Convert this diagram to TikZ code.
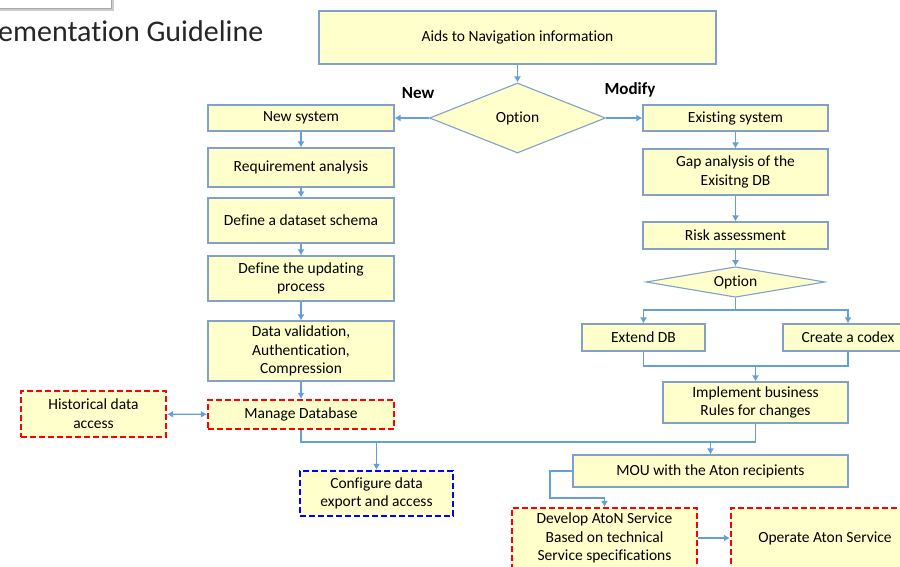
\documentclass[tikz,border=0pt]{standalone}
\usepackage{fontspec}
\setmainfont{Carlito}[Ligatures=NoCommon]
\usetikzlibrary{shapes.geometric,arrows.meta}
\definecolor{boxfill}{RGB}{255,255,204}
\definecolor{boxline}{RGB}{130,160,200}
\definecolor{flowline}{RGB}{100,160,215}
\tikzset{
  stepbox/.style={draw=boxline, line width=1.1pt, fill=boxfill, align=center, inner sep=0pt,
    font=\fontsize{15.5}{18.7}\selectfont},
  wh/.style 2 args={minimum width=#1pt, minimum height=#2pt},
  choice/.style={stepbox, diamond, aspect=2.5},
  reddash/.style={stepbox, draw=red, line width=2.2pt, dash pattern=on 6pt off 3pt},
  bluedash/.style={stepbox, draw=blue, line width=2.2pt, dash pattern=on 6pt off 3pt},
  plain/.style={draw=flowline, line width=1.1pt},
  flow/.style={plain, -{Latex[length=6pt,width=7pt]}},
  twoway/.style={plain, {Latex[length=6pt,width=7pt]}-{Latex[length=6pt,width=7pt]}},
  tag/.style={font=\fontsize{17}{20}\selectfont\bfseries}
}
\begin{document}
\begin{tikzpicture}[x=1pt,y=-1pt]
 \useasboundingbox (0,0) rectangle (900,566);
 % cut-off slide title
 \fill[black!20] (-3,-3) rectangle (114,11);
 \fill[white,draw=black!35] (-3,-3) rectangle (111,8);
 \node[anchor=base west, inner sep=0pt, text=black!85, font=\fontsize{30}{36}\selectfont] (title) at (-2,41) {ementation Guideline};

 \node[stepbox,wh={397}{53}] (aids) at (517.5,37.5) {Aids to Navigation information};
 \node[choice,wh={176}{70}] (opt) at (517.5,118) {Option};
 \node[tag] (new) at (418,93) {New};
 \node[tag] (mod) at (630,90) {Modify};

 % new system branch
 \node[stepbox,wh={186}{26}] (newsys) at (301,118) {New system};
 \node[stepbox,wh={186}{39}] (req) at (301,167.5) {Requirement analysis};
 \node[stepbox,wh={186}{45}] (schema) at (301,220.5) {Define a dataset schema};
 \node[stepbox,wh={186}{45}] (upd) at (301,278.5) {Define the updating\\process};
 \node[stepbox,wh={186}{60}] (valid) at (301,351) {Data validation,\\Authentication,\\Compression};
 \node[reddash,wh={186}{29}] (mdb) at (301,414.5) {Manage Database};
 \node[reddash,wh={145}{46}] (hist) at (93.5,414) {Historical data\\access};
 \node[bluedash,wh={153}{45}] (conf) at (376.5,493.5) {Configure data\\export and access};

 % existing system branch
 \node[stepbox,wh={185}{26}] (exist) at (735.5,118) {Existing system};
 \node[stepbox,wh={185}{46}] (gap) at (735.5,172) {Gap analysis of the\\Exisitng DB};
 \node[stepbox,wh={185}{27}] (risk) at (735.5,235.5) {Risk assessment};
 \node[choice,wh={179}{26}] (opt2) at (735.5,282) {Option};
 \node[stepbox,wh={123}{27}] (ext) at (643.5,337.5) {Extend DB};
 \node[stepbox,wh={130}{27}] (codex) at (848,337.5) {Create a codex};
 \node[stepbox,wh={185}{41}] (impl) at (755.5,402.5) {Implement business\\Rules for changes};
 \node[stepbox,wh={275}{32}] (mou) at (710.5,471) {MOU with the Aton recipients};
 \node[reddash,wh={185}{60}] (dev) at (604.5,538) {Develop AtoN Service\\Based on technical\\Service specifications};
 \node[reddash,wh={188}{60}] (oper) at (825,538) {Operate Aton Service};

 \coordinate (split) at (735.5,310);
 \coordinate (join) at (755.5,366);
 \coordinate (busl) at (301,442);
 \coordinate (busr) at (755.5,442);
 \coordinate (elbow) at (550,498);

 \draw[flow] (aids) -- (opt);
 \draw[flow] (opt) -- (newsys);
 \draw[flow] (opt) -- (exist);
 \draw[flow] (newsys) -- (req);
 \draw[flow] (req) -- (schema);
 \draw[flow] (schema) -- (upd);
 \draw[flow] (upd) -- (valid);
 \draw[flow] (valid) -- (mdb);
 \draw[twoway] (hist) -- (mdb);
 \draw[flow] (exist) -- (gap);
 \draw[flow] (gap) -- (risk);
 \draw[flow] (risk) -- (opt2);
 \draw[flow] (opt2) -- (split) -| (ext);
 \draw[flow] (split) -| (codex);
 \draw[plain] (ext) |- (join) -| (codex);
 \draw[flow] (join) -- (impl);
 \draw[plain] (mdb) -- (busl) -- (busr) -- (impl);
 \draw[flow] (conf |- busl) -- (conf);
 \draw[flow] (mou |- busl) -- (mou);
 \draw[flow] (mou.west) -| (elbow) -| (dev);
 \draw[flow] (dev) -- (oper);
\end{tikzpicture}
\end{document}
